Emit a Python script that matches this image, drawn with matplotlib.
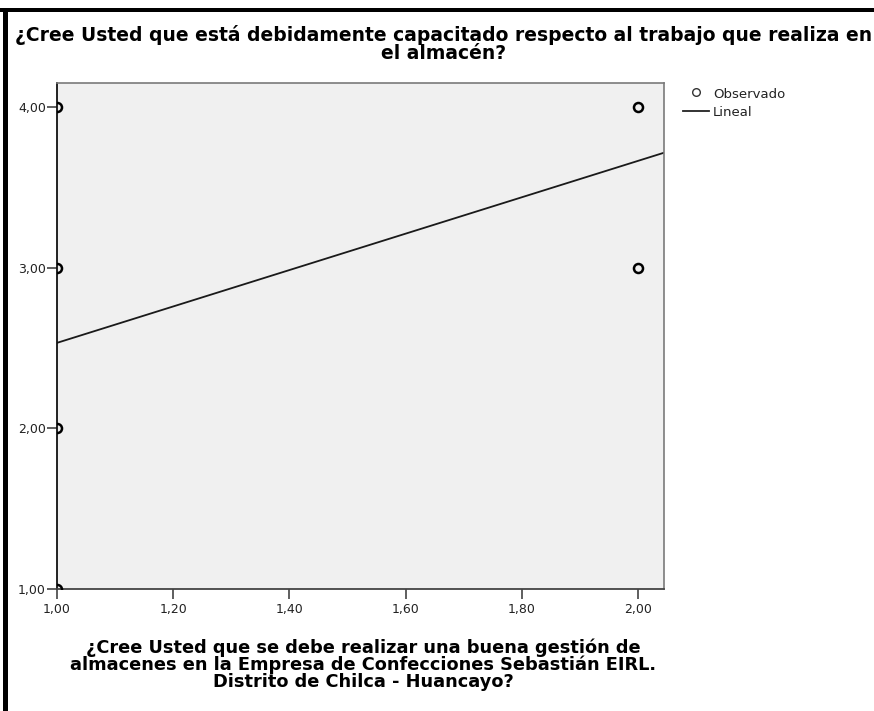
import numpy as np
import matplotlib
matplotlib.use("Agg")
import matplotlib.pyplot as plt
from matplotlib.lines import Line2D
from matplotlib.patches import Rectangle

plt.rcParams['font.family'] = ['DejaVu Sans']

# Observed answers (distinct x/y combinations) and how many respondents gave each
obs_x = [1, 1, 1, 1, 2, 2]
obs_y = [1, 2, 3, 4, 3, 4]
obs_n = [3, 4, 5, 3, 1, 2]

x_ticks = [1.0, 1.2, 1.4, 1.6, 1.8, 2.0]
x_tick_labels = ['1,00', '1,20', '1,40', '1,60', '1,80', '2,00']
y_ticks = [1.0, 2.0, 3.0, 4.0]
y_tick_labels = ['1,00', '2,00', '3,00', '4,00']

legend_labels = ['Observado', 'Lineal']

title_text = ("¿Cree Usted que está debidamente capacitado respecto al trabajo que realiza en\n"
              "el almacén?")
xlabel_text = ("¿Cree Usted que se debe realizar una buena gestión de\n"
               "almacenes en la Empresa de Confecciones Sebastián EIRL.\n"
               "Distrito de Chilca - Huancayo?")

W, H = 874, 711
fig = plt.figure(figsize=(W / 100, H / 100), dpi=100)
fig.patch.set_facecolor('white')

ax_l, ax_r, ax_t, ax_b = 57, 664, 83, 589
ax = fig.add_axes([ax_l / W, 1 - ax_b / H, (ax_r - ax_l) / W, (ax_b - ax_t) / H])
ax.set_facecolor('#f0f0f0')

x_lo, x_hi = 1.0, 2.045
y_lo, y_hi = 1.0, 4.152
ax.set_xlim(x_lo, x_hi)
ax.set_ylim(y_lo, y_hi)

# Linear fit weighted by the number of respondents
xw = np.repeat(obs_x, obs_n)
yw = np.repeat(obs_y, obs_n)
slope, intercept = np.polyfit(xw, yw, 1)
fx = np.array([x_lo, x_hi])
ax.plot(fx, intercept + slope * fx, color='#1a1a1a', lw=1.3, zorder=2)

ax.plot(obs_x, obs_y, linestyle='none', marker='o', ms=6.5, mfc='none',
        mec='black', mew=1.8, zorder=3, clip_on=True)

ax.set_xticks(x_ticks)
ax.set_xticklabels(x_tick_labels)
ax.set_yticks(y_ticks)
ax.set_yticklabels(y_tick_labels)
ax.tick_params(axis='both', direction='out', length=7, width=1.1,
               color='#333333', labelsize=9, labelcolor='#222222', pad=1)
ax.tick_params(axis='x', pad=3)

for side in ('top', 'right'):
    ax.spines[side].set_color('#7a7a7a')
    ax.spines[side].set_linewidth(1.2)
ax.spines['left'].set_color('#111111')
ax.spines['left'].set_linewidth(1.3)
ax.spines['bottom'].set_color('#444444')
ax.spines['bottom'].set_linewidth(1.3)

fig.text(444 / W, 1 - 44 / H, title_text, ha='center', va='center',
         fontsize=13.5, fontweight='bold', linespacing=0.92)
fig.text(363 / W, 1 - 665 / H, xlabel_text, ha='center', va='center',
         fontsize=12.8, fontweight='bold', linespacing=0.9)

# Legend: observed marker and fitted line, placed to the right of the plot
fig.add_artist(Line2D([696 / W], [1 - 92 / H], linestyle='none', marker='o',
                      ms=5.5, mfc='none', mec='#333333', mew=1.0))
fig.add_artist(Line2D([683 / W, 709 / W], [1 - 111 / H, 1 - 111 / H],
                      color='#222222', lw=1.3))
fig.text(713 / W, 1 - 94 / H, legend_labels[0], ha='left', va='center',
         fontsize=9.5, color='#222222')
fig.text(713 / W, 1 - 112 / H, legend_labels[1], ha='left', va='center',
         fontsize=9.5, color='#222222')

# Heavy frame along the top and left edges
fig.add_artist(Rectangle((0, 1 - 12 / H), 1, 4 / H, transform=fig.transFigure,
                         facecolor='black', edgecolor='none'))
fig.add_artist(Rectangle((3 / W, 0), 5 / W, 1 - 8 / H, transform=fig.transFigure,
                         facecolor='black', edgecolor='none'))

fig.savefig('out.png', dpi=100)
